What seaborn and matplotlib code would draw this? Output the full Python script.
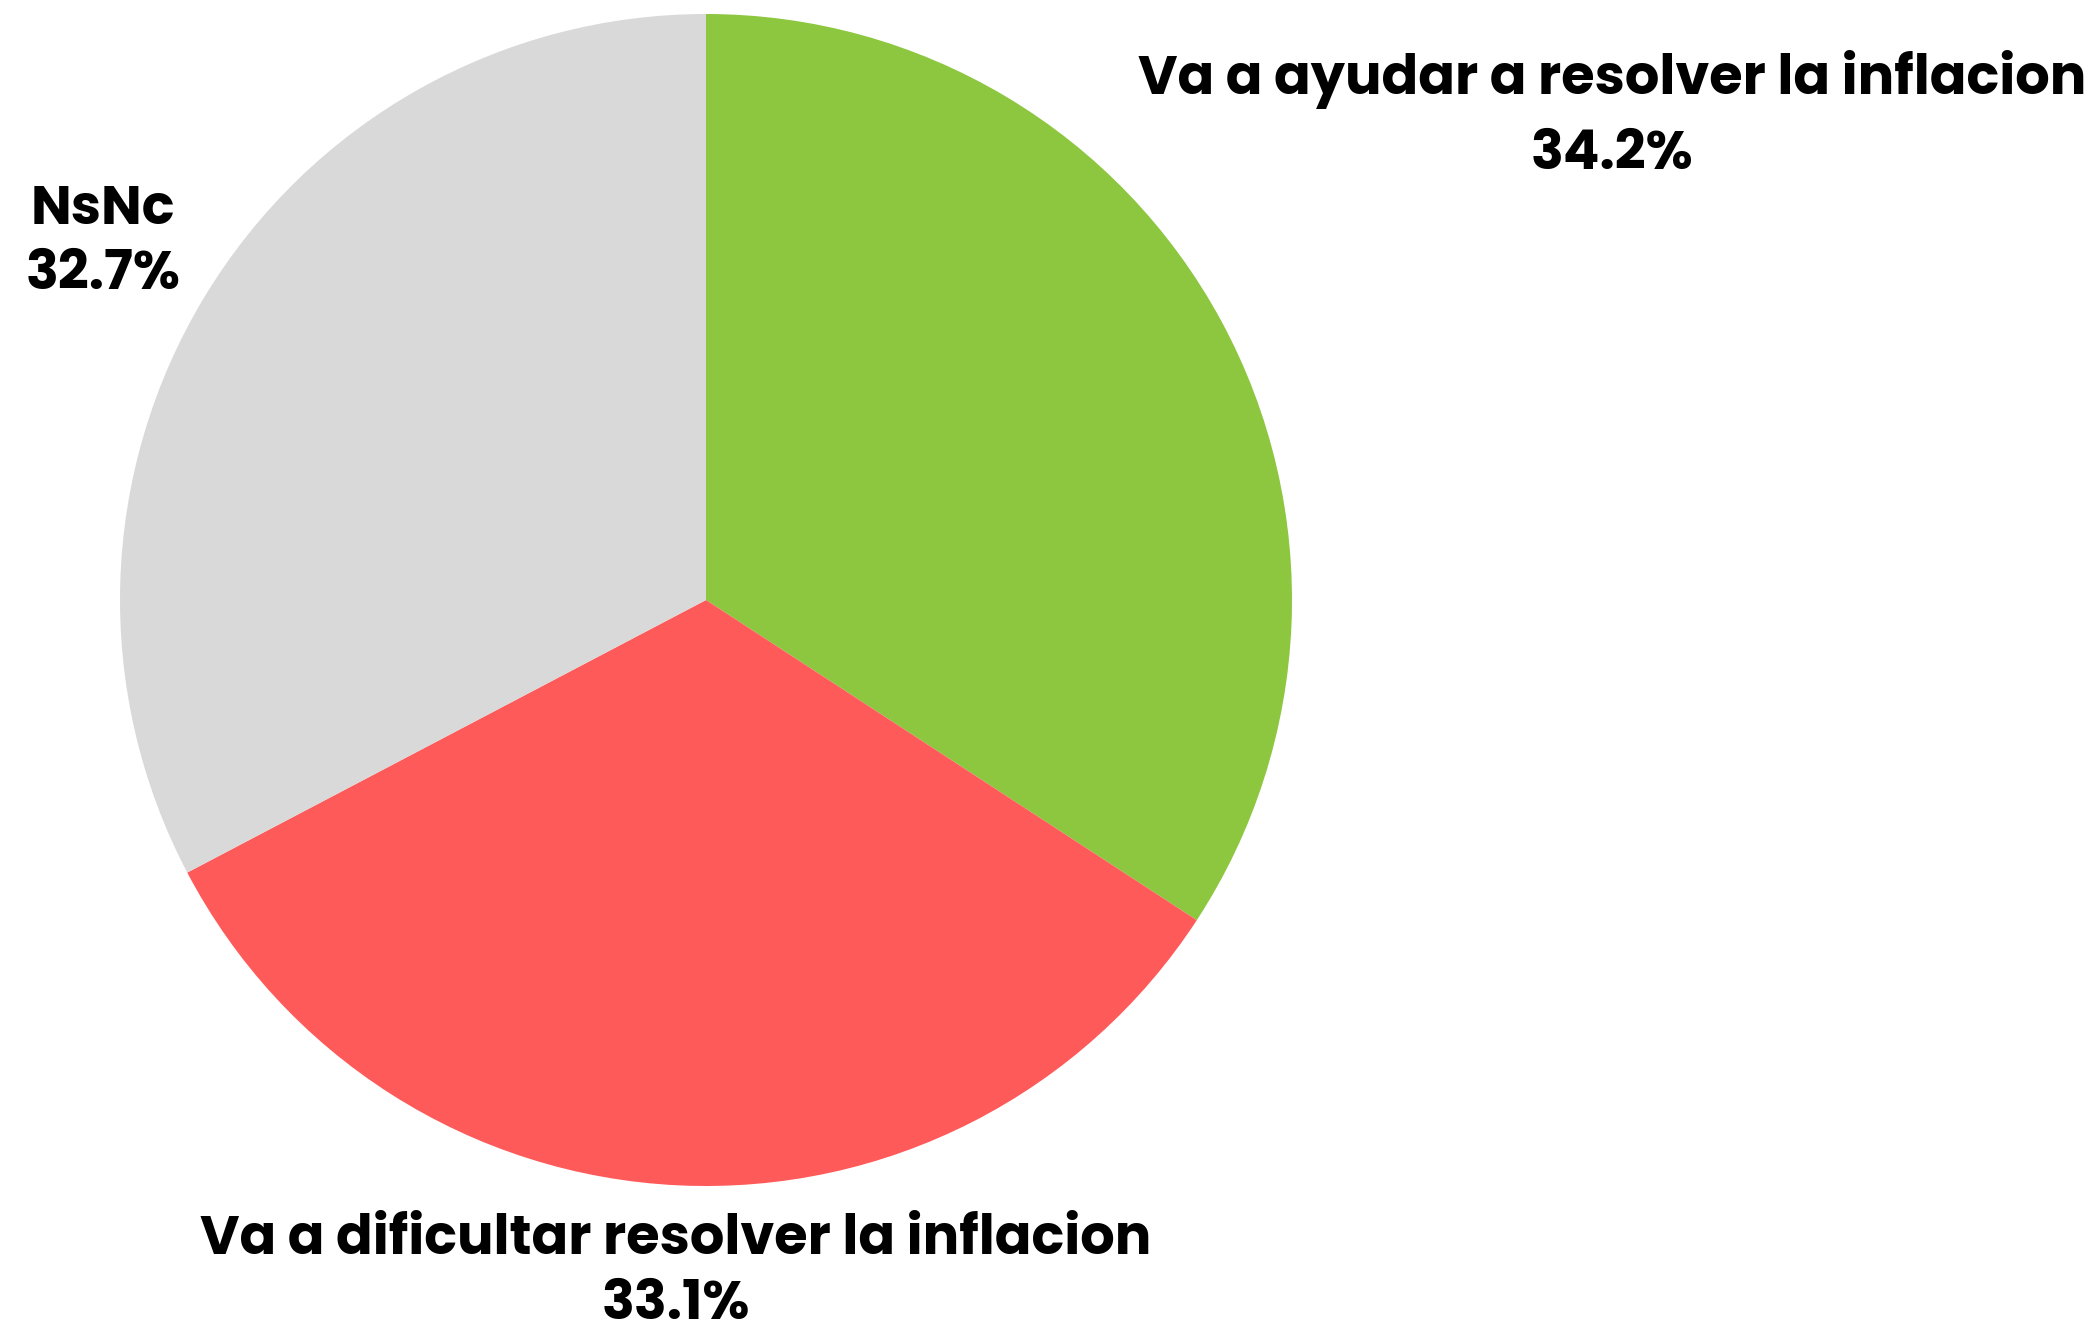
import matplotlib
matplotlib.use('Agg')
import matplotlib.pyplot as plt
import seaborn as sns

# datos
labels = ["Va a ayudar a resolver la inflacion", "Va a dificultar resolver la inflacion", "NsNc"]
values = [34.2, 33.1, 32.7]
colors = ["#8DC63F", "#FF5A5A", "#D9D9D9"]

# label anchors in data coords (pie radius = 1): x, baseline of name, baseline of pct
label_pos = [(1.546, 0.8635, 0.7355), (-0.051, -1.116, -1.227), (-1.029, 0.6416, 0.5307)]

sns.set_theme(style="white")
plt.rcParams['font.family'] = ['Poppins', 'DejaVu Sans']

W, H = 2098, 1323
fig = plt.figure(figsize=(W / 100, H / 100), dpi=100)
fig.patch.set_facecolor("white")
ax = fig.add_axes([120 / W, 137 / H, 1172 / W, 1172 / H])

ax.pie(values, colors=colors, startangle=90, counterclock=False, radius=1,
       wedgeprops=dict(linewidth=0))
ax.set_xlim(-1, 1)
ax.set_ylim(-1, 1)
ax.set_aspect("equal")
ax.axis("off")

for lab, val, (x, y1, y2) in zip(labels, values, label_pos):
    ax.text(x, y1, lab, ha="center", va="baseline", fontsize=39, fontweight="bold",
            color="black")
    ax.text(x, y2, f"{val:.1f}%", ha="center", va="baseline", fontsize=39,
            fontweight="bold", color="black")

fig.savefig("out.png", dpi=100, facecolor="white")
